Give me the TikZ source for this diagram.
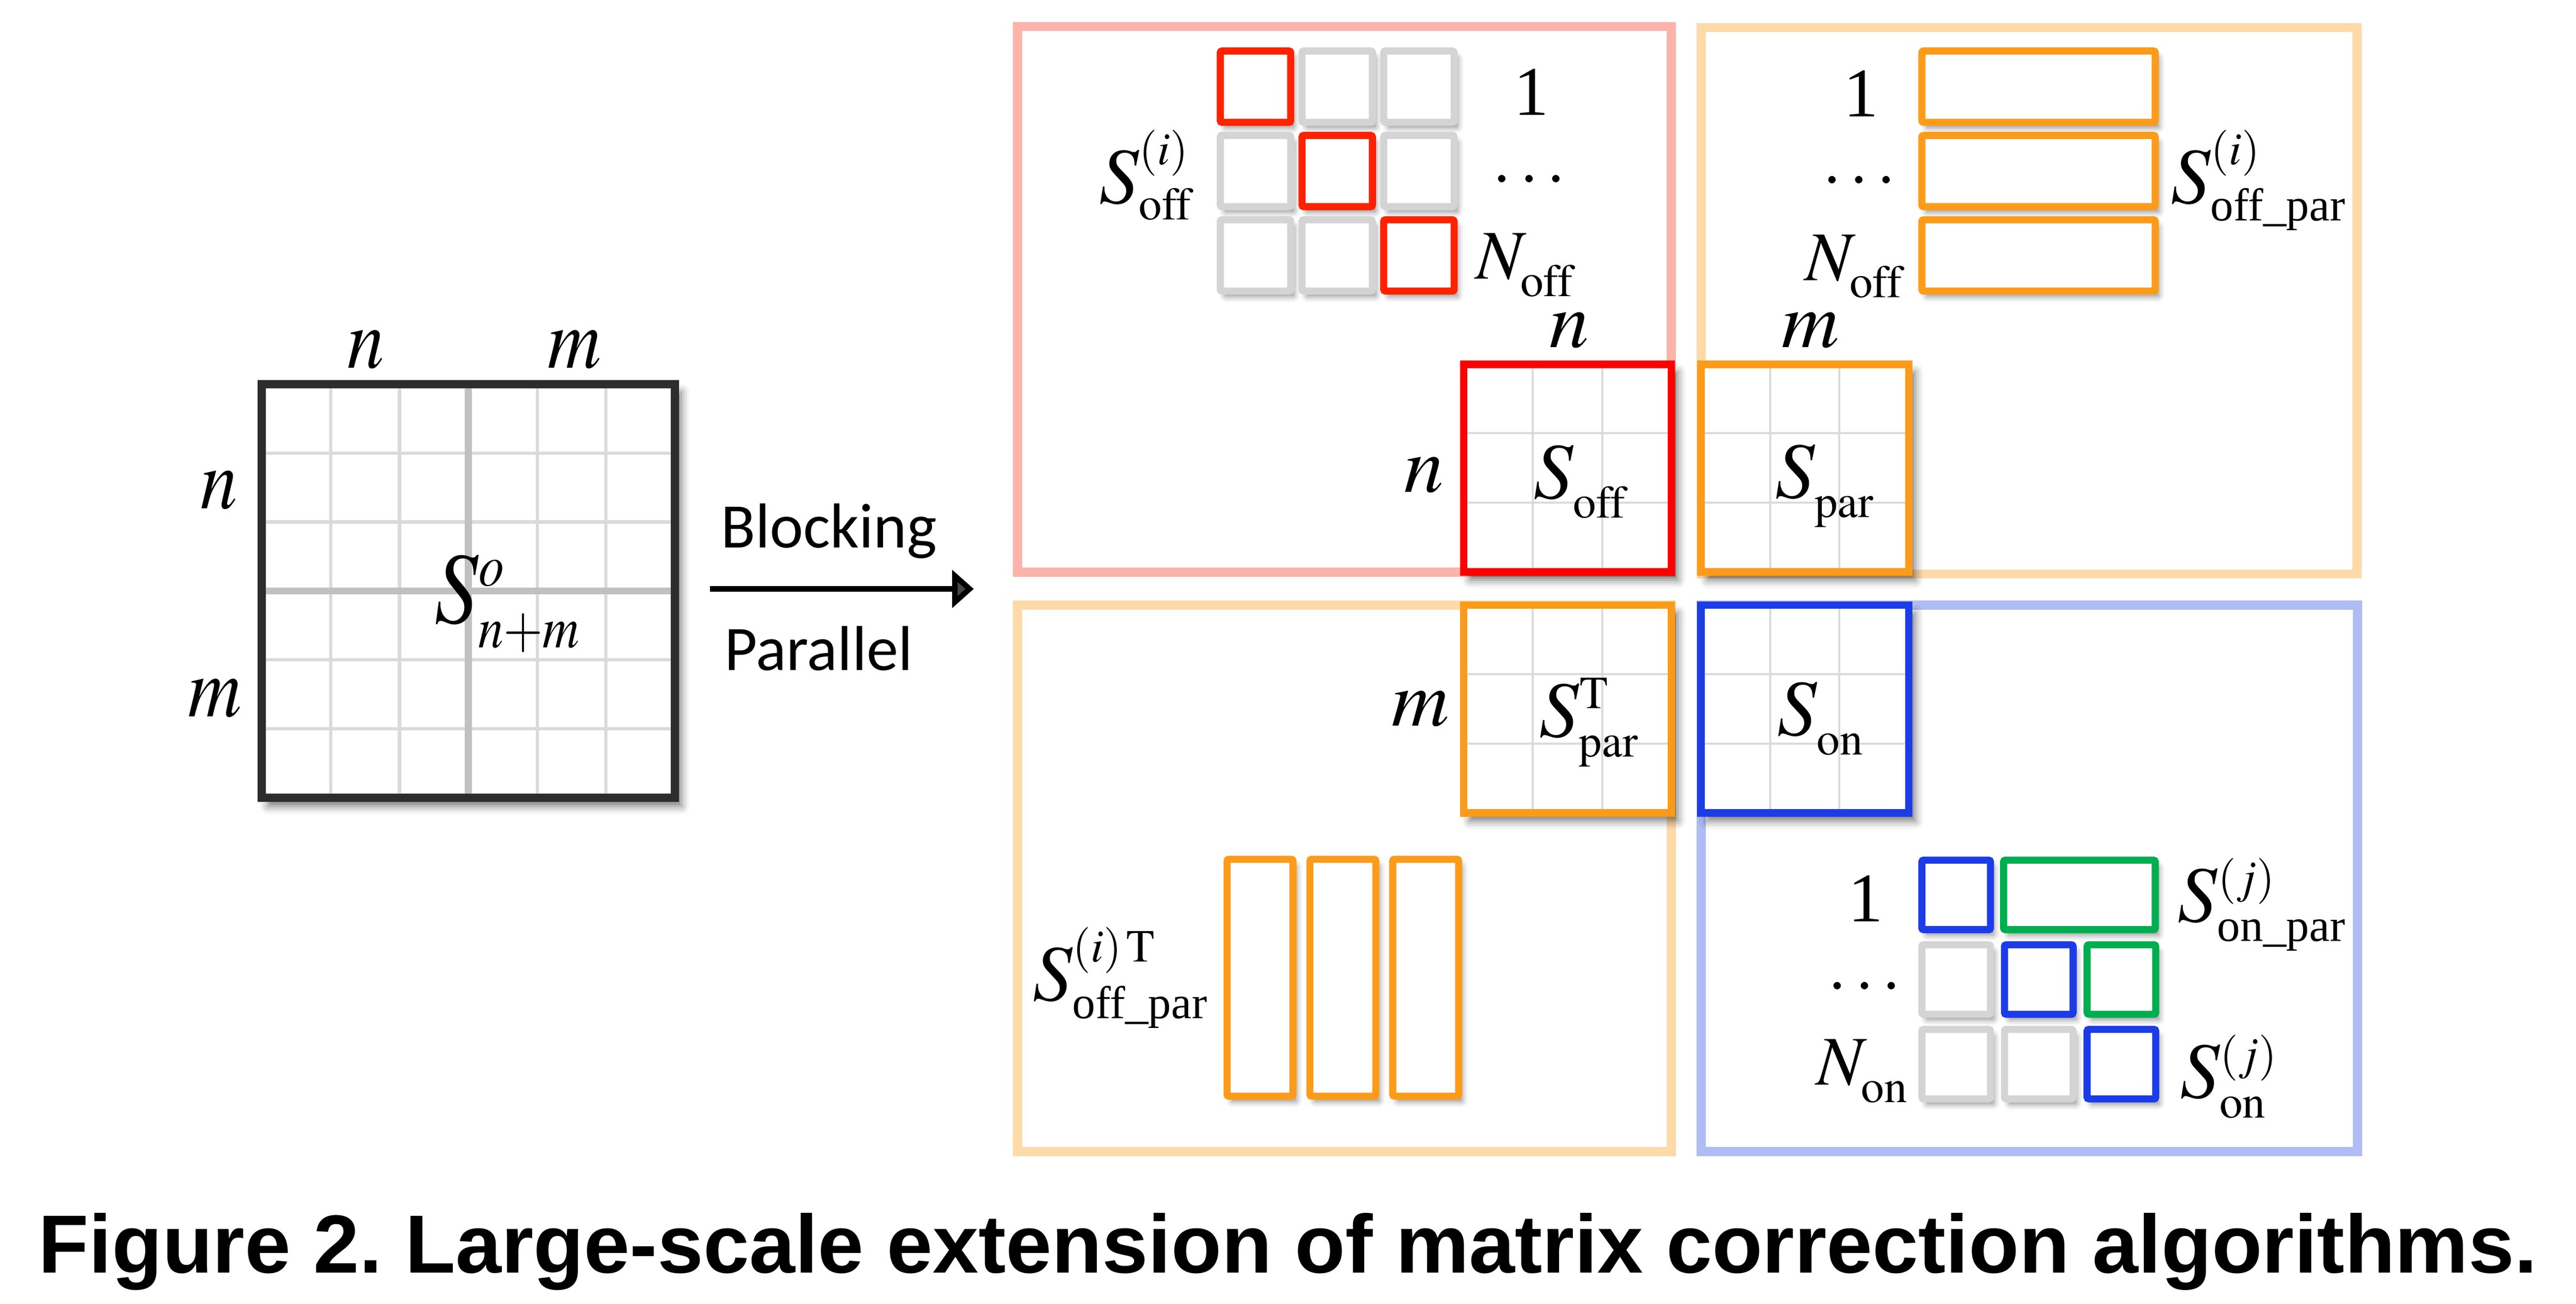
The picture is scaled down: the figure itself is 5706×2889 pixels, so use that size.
\documentclass[tikz,border=0pt]{standalone}
\usepackage{amsmath}
\usepackage{mathptmx}
\usepackage{fontspec}
\setmainfont{Liberation Serif}
\newfontfamily\calibri{Carlito}
\newfontfamily\arialfont{Liberation Sans}
\usetikzlibrary{arrows.meta,shadows.blur}

\DeclareMathSizes{44}{44}{29}{23}
\DeclareMathSizes{50}{50}{29}{23}
\DeclareMathSizes{54}{54}{32}{25}
\DeclareMathSizes{64}{64}{37}{30}

\definecolor{offred}{RGB}{255,34,0}
\definecolor{boxred}{RGB}{255,0,0}
\definecolor{parorange}{RGB}{252,155,25}
\definecolor{onblue}{RGB}{28,60,232}
\definecolor{pargreen}{RGB}{0,174,80}
\definecolor{cellgray}{RGB}{212,212,212}
\definecolor{gridgray}{RGB}{218,218,218}
\definecolor{midgray}{RGB}{192,192,192}
\definecolor{matdark}{RGB}{45,45,45}
\definecolor{framepink}{RGB}{251,179,170}
\definecolor{frameorange}{RGB}{254,218,168}
\definecolor{frameblue}{RGB}{176,188,244}

\newcommand{\narrowx}[1]{\scalebox{0.86}[1]{#1}}

\begin{document}
\begin{tikzpicture}[x=0.1mm, y=-0.1mm,
  panel/.style={line width=5.7pt},
  boxshadow/.style={blur shadow={shadow xshift=1.4mm, shadow yshift=-1.8mm, shadow blur radius=1.8mm, shadow opacity=55}},
  cell/.style={line width=4.5pt, rounded corners=0.4mm, fill=white,
    blur shadow={shadow xshift=0.9mm, shadow yshift=-1.3mm, shadow blur radius=1.2mm, shadow opacity=40}},
  gline/.style={gridgray, line width=1.3pt},
  mlab/.style={font=\fontsize{50}{60}\selectfont, inner sep=0pt, anchor=base west},
  ilab/.style={font=\fontsize{44}{52}\selectfont, inner sep=0pt},
  olab/.style={font=\fontsize{54}{64}\selectfont, inner sep=0pt, anchor=base west},
]
\useasboundingbox (0,0) rectangle (5706,2889);

% original matrix
\fill[white, boxshadow] (580,851) rectangle (1495,1768);
\foreach \k in {1,2,4,5}{
  \draw[gridgray, line width=2pt] (580+152.5*\k,851) -- (580+152.5*\k,1768);
  \draw[gridgray, line width=2pt] (580,851+152.8*\k) -- (1495,851+152.8*\k);
}
\draw[midgray, line width=4.5pt] (1037.5,851) -- (1037.5,1768);
\draw[midgray, line width=4.5pt] (580,1309.5) -- (1495,1309.5);
\draw[matdark, line width=5.1pt] (580,851) rectangle (1495,1768);

\node[olab] (nTop) at (769,815) {\narrowx{$n$}};
\node[olab] (mTop) at (1213,815) {\narrowx{$m$}};
\node[olab] (nLeft) at (444,1127) {\narrowx{$n$}};
\node[olab] (mLeft) at (416,1588) {\narrowx{$m$}};
\node[font=\fontsize{64}{76}\selectfont, inner sep=0pt, anchor=base west] (So) at (962,1380) {\narrowx{$S^{o}_{n+m}$}};

% arrow
\coordinate (arrS) at (1573,1305);
\coordinate (arrE) at (2157,1305);
\draw[line width=3.7pt, -{Triangle[length=4.8mm,width=8.2mm]}] (arrS) -- (arrE);
\node[font=\calibri\fontsize{40}{48}\selectfont, inner sep=0pt, anchor=base west] (blk) at (1596,1214) {Blocking};
\node[font=\calibri\fontsize{40}{48}\selectfont, inner sep=0pt, anchor=base west] (par) at (1604,1485) {Parallel};

% panels
\draw[panel, framepink] (2254,59) rectangle (3702,1268);
\draw[panel, frameorange] (3768,61) rectangle (5221,1272);
\draw[panel, frameorange] (2254,1341) rectangle (3702,2552);
\draw[panel, frameblue] (3768,1341) rectangle (5222,2552);

% blocks
\foreach \x/\y/\c in {3242/807/boxred, 3768/807/parorange, 3242/1341/parorange, 3768/1341/onblue}{
  \fill[white, boxshadow] (\x,\y) rectangle ++(460,460);
  \foreach \k in {1,2}{
    \draw[gline] (\x+153.3*\k,\y) -- ++(0,460);
    \draw[gline] (\x,\y+153.3*\k) -- ++(460,0);
  }
  \draw[\c, line width=4.8pt] (\x,\y) rectangle ++(460,460);
}

\node[mlab] (nAbove) at (3431,770) {$n$};
\node[mlab] (mAbove) at (3946,770) {$m$};
\node[mlab] (nSide) at (3110,1090) {$n$};
\node[mlab] (mSide) at (3082,1608) {$m$};
\node[mlab] (SoffLab) at (3396,1104) {$S^{}_{\mathrm{off}}$};
\node[mlab] (SparLab) at (3931,1103) {$S^{}_{\mathrm{par}}$};
\node[mlab] (SparTLab) at (3409,1633) {$S^{\mathrm{T}}_{\mathrm{par}}$};
\node[mlab] (SonLab) at (3936,1629) {$S^{}_{\mathrm{on}}$};

% off-diagonal sub-blocks
\foreach \r in {0,1,2}{
  \foreach \c in {0,1,2}{
    \ifnum\r=\c \def\cc{offred}\else\def\cc{cellgray}\fi
    \draw[cell, draw=\cc] (2703+181*\c,113+187*\r) rectangle ++(156,158);
  }
}
\node[mlab] (SoffiLab) at (2434,450) {$S^{(i)}_{\mathrm{off}}$};
\node[ilab, anchor=base] (one1) at (3392,255) {1};
\node[ilab, anchor=base] (dots1) at (3387,405) {$\ldots$};
\node[ilab, anchor=base west] (Noff1) at (3268,618) {$N^{}_{\mathrm{off}}$};

% parallel rows
\foreach \r in {0,1,2}
  \draw[cell, draw=parorange] (4257,113+187*\r) rectangle ++(517,158);
\node[ilab, anchor=base] (one2) at (4122,258) {1};
\node[ilab, anchor=base] (dots2) at (4118,407) {$\ldots$};
\node[ilab, anchor=base west] (Noff2) at (3997,621) {$N^{}_{\mathrm{off}}$};
\node[mlab] (SoffparLab) at (4808,450) {$S^{(i)}_{\text{off\_par}}$};

% parallel columns
\foreach \c in {0,1,2}
  \draw[cell, draw=parorange] (2718+183.5*\c,1904) rectangle ++(146,525);
\node[mlab] (SoffparTLab) at (2287,2217) {$S^{(i)\,\mathrm{T}}_{\text{off\_par}}$};

% on-diagonal sub-blocks
\foreach \r/\c/\cc in {0/0/onblue, 1/0/cellgray, 1/1/onblue, 1/2/pargreen, 2/0/cellgray, 2/1/cellgray, 2/2/onblue}
  \draw[cell, draw=\cc] (4257+183*\c,1906+187.5*\r) rectangle ++(152,154);
\draw[cell, draw=pargreen] (4438,1906) rectangle ++(336,154);
\node[ilab, anchor=base] (one3) at (4133,2042) {1};
\node[ilab, anchor=base] (dots3) at (4130,2193) {$\ldots$};
\node[ilab, anchor=base west] (Non) at (4023,2404) {$N^{}_{\mathrm{on}}$};
\node[mlab] (SonparLab) at (4823,2042) {$S^{(j)}_{\text{on\_par}}$};
\node[mlab] (SonjLab) at (4828,2433) {$S^{(j)}_{\mathrm{on}}$};

% caption
\node[font=\arialfont\bfseries\fontsize{52}{60}\selectfont, inner sep=0pt, anchor=base] (cap) at (2853,2821) {Figure 2.\ Large-scale extension of matrix correction algorithms.};
\end{tikzpicture}
\end{document}
